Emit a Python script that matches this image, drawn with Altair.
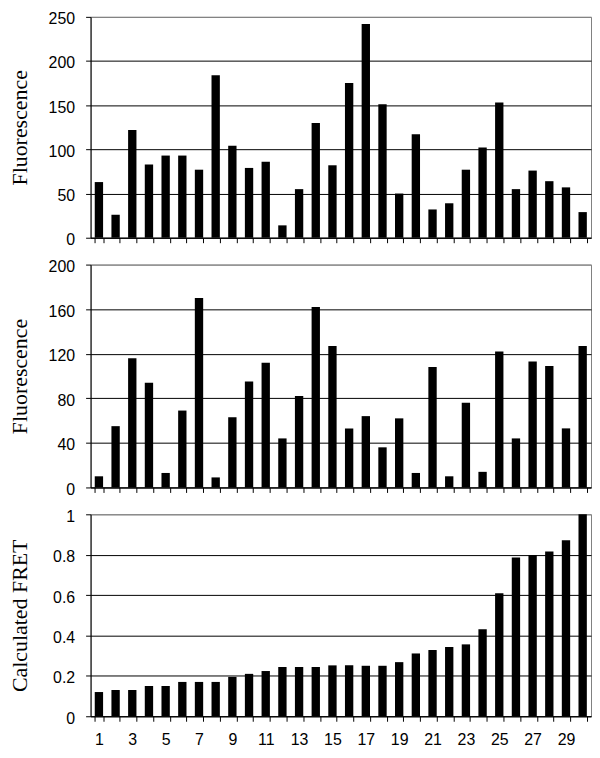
import altair as alt
import pandas as pd

samples = list(range(1, 31))

donor_fluorescence = [63, 26, 122, 83, 93, 93, 77, 184, 104, 79,
                      86, 14, 55, 130, 82, 175, 242, 151, 50, 117,
                      32, 39, 77, 102, 153, 55, 76, 64, 57, 29]

acceptor_fluorescence = [10, 55, 116, 94, 13, 69, 170, 9, 63, 95,
                         112, 44, 82, 162, 127, 53, 64, 36, 62, 13,
                         108, 10, 76, 14, 122, 44, 113, 109, 53, 127]

calculated_fret = [0.12, 0.13, 0.13, 0.15, 0.15, 0.17, 0.17, 0.17, 0.195, 0.21,
                   0.224, 0.244, 0.244, 0.244, 0.252, 0.252, 0.25, 0.25, 0.268, 0.311,
                   0.328, 0.343, 0.356, 0.431, 0.609, 0.786, 0.799, 0.816, 0.871, 1.0]

top_ticks = [0, 50, 100, 150, 200, 250]
mid_ticks = [0, 40, 80, 120, 160, 200]
bot_ticks = [0, 0.2, 0.4, 0.6, 0.8, 1]

df = pd.DataFrame({
    "sample": samples,
    "donor": donor_fluorescence,
    "acceptor": acceptor_fluorescence,
    "fret": calculated_fret,
})

W = 503
LABEL_FONT = "Liberation Sans"
TITLE_FONT = "Liberation Serif"


def panel(field, title, ticks, height, show_labels, title_pad, label_expr=None):
    top = ticks[-1]
    grid_color = {"condition": {"test": f"datum.value >= {top}", "value": "#808080"},
                  "value": "black"}
    y_axis = dict(
        values=ticks, title=title, grid=True, gridColor=grid_color,
        tickSize=5, labelPadding=11, labelOffset=2, labelFontSize=16,
        labelFont=LABEL_FONT, labelColor="black", titleFont=TITLE_FONT,
        titleFontSize=22, titleFontWeight="normal", titleColor="black",
        titlePadding=title_pad, domainColor="black", tickColor="black",
    )
    if label_expr:
        y_axis["labelExpr"] = label_expr
    x_axis = dict(
        title=None, tickBand="extent", tickSize=5, labelAngle=0,
        domainColor="black", tickColor="black", grid=False,
        labelFont=LABEL_FONT, labelFontSize=16, labelColor="black",
    )
    if show_labels:
        x_axis["labelExpr"] = "datum.value % 2 == 1 ? datum.label : ''"
        x_axis["labelPadding"] = 10
    else:
        x_axis["labels"] = False
    return alt.Chart(df).mark_bar(color="black").encode(
        x=alt.X("sample:O", scale=alt.Scale(paddingInner=0.5, paddingOuter=0.25),
                axis=alt.Axis(**x_axis)),
        y=alt.Y(f"{field}:Q", scale=alt.Scale(domain=[0, top], nice=False),
                axis=alt.Axis(**y_axis)),
    ).properties(width=W, height=height)


fret_labels = ("datum.value == 0 ? '0' : datum.value == 1 ? '1' : "
               "format(datum.value, '.1f')")

top_chart = panel("donor", "Fluorescence", top_ticks, 222, False, 16.5)
mid_chart = panel("acceptor", "Fluorescence", mid_ticks, 224, False, 16.5)
bot_chart = panel("fret", "Calculated FRET", bot_ticks, 203, True, 21,
                  label_expr=fret_labels)

chart = alt.vconcat(top_chart, mid_chart, bot_chart, spacing=9).properties(
    padding={"left": 0, "top": 0, "right": 0, "bottom": 0},
    background="white",
).configure_view(stroke="#808080", strokeWidth=1)

chart.save("out.html", embed_options={"renderer": "svg", "actions": False})
